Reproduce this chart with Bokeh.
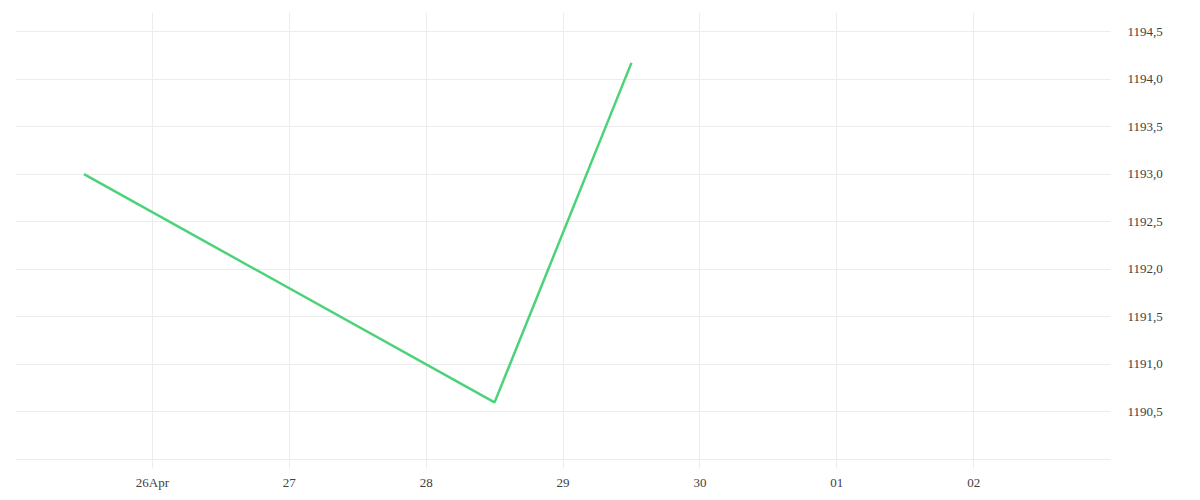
from datetime import datetime
from bokeh.plotting import figure
from bokeh.models import Range1d, FixedTicker, LinearAxis
from bokeh.embed import file_html
from bokeh.resources import INLINE

dates = [datetime(2025, 4, 25, 12), datetime(2025, 4, 28, 12), datetime(2025, 4, 29, 12)]
prices = [1193.0, 1190.6, 1194.17]

x_tick_dates = [datetime(2025, 4, d) for d in range(25, 31)] + [datetime(2025, 5, d) for d in (1, 2, 3)]
x_tick_labels = ["", "26Apr", "27", "28", "29", "30", "01", "02", ""]
y_grid_values = [1190.0, 1190.5, 1191.0, 1191.5, 1192.0, 1192.5, 1193.0, 1193.5, 1194.0, 1194.5]
y_tick_values = [1190.5, 1191.0, 1191.5, 1192.0, 1192.5, 1193.0, 1193.5, 1194.0, 1194.5]
y_tick_labels = ["1190,5", "1191,0", "1191,5", "1192,0", "1192,5", "1193,0", "1193,5", "1194,0", "1194,5"]

def ms(d):
    return (d - datetime(1970, 1, 1)).total_seconds() * 1000.0

FONT = "Liberation Serif"

p = figure(width=1192, height=492, x_axis_type="datetime", output_backend="svg",
           toolbar_location=None, y_axis_location=None,
           x_range=Range1d(ms(datetime(2025, 4, 25)), ms(datetime(2025, 5, 3))),
           y_range=Range1d(1189.905, 1194.70),
           min_border_left=15, min_border_top=12, min_border_right=82, min_border_bottom=22)
p.outline_line_color = None
p.background_fill_color = "white"
p.border_fill_color = "white"

p.line([ms(d) for d in dates], prices, line_color="#4cd37a", line_width=2.5)

xt = [ms(d) for d in x_tick_dates]
xa = p.xaxis[0]
xa.ticker = FixedTicker(ticks=xt)
xa.major_label_overrides = {t: l for t, l in zip(xt, x_tick_labels)}
xa.axis_line_color = None
xa.major_tick_line_color = None
xa.minor_tick_line_color = None
xa.major_tick_out = 0
xa.major_tick_in = 0
xa.minor_tick_out = 0
xa.major_label_standoff = 6
xa.major_label_text_font = FONT
xa.major_label_text_font_size = "13px"
xa.major_label_text_color = "#404040"

ya = LinearAxis(ticker=FixedTicker(ticks=y_tick_values))
ya.major_label_overrides = {v: l for v, l in zip(y_tick_values, y_tick_labels)}
ya.axis_line_color = None
ya.major_tick_line_color = None
ya.minor_tick_line_color = None
ya.major_tick_out = 0
ya.major_tick_in = 0
ya.minor_tick_out = 0
ya.major_label_standoff = 17
ya.major_label_text_font = FONT
ya.major_label_text_font_size = "13px"
ya.major_label_text_color = "#404040"
p.add_layout(ya, "right")

p.xgrid.ticker = FixedTicker(ticks=xt)
p.xgrid.grid_line_color = "#ececec"
p.ygrid.ticker = FixedTicker(ticks=y_grid_values)
p.ygrid.grid_line_color = "#ececec"

open("out.html", "w").write(file_html(p, INLINE))
